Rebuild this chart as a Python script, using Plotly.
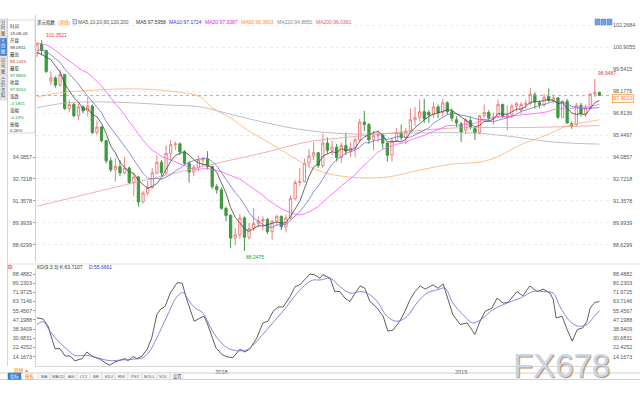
import plotly.graph_objects as go

W, H = 640, 400
FONT = "Liberation Sans, Noto Sans CJK SC"

# weekly candles of the dollar index, one per week from 2017-04-03 to 2019-08-05
opens = [100.50, 101.10, 100.70, 98.80, 99.00, 98.55, 99.20, 97.10, 97.35, 96.65,
         97.20, 96.95, 97.25, 95.60, 95.95, 95.10, 93.85, 93.30, 93.50, 93.10,
         93.40, 92.50, 92.85, 91.30, 91.85, 92.20, 93.10, 93.75, 93.10, 94.30,
         94.85, 94.90, 94.40, 93.70, 93.15, 93.45, 93.90, 93.95, 93.50, 92.25,
         92.05, 90.90, 90.45, 89.05, 89.25, 90.30, 89.10, 89.65, 89.95, 90.10,
         90.20, 89.45, 90.10, 90.40, 89.75, 90.30, 91.50, 92.50, 92.55, 93.70,
         94.15, 94.35, 93.55, 94.95, 94.50, 94.70, 94.05, 94.80, 94.45, 94.65,
         95.15, 96.25, 96.10, 95.15, 95.40, 95.45, 94.95, 94.20, 95.10, 95.60,
         95.30, 95.70, 96.40, 96.55, 96.90, 96.85, 96.70, 97.20, 96.85, 97.45,
         96.90, 96.40, 96.15, 95.75, 96.35, 95.85, 95.60, 96.65, 96.85, 96.50,
         96.60, 97.35, 96.55, 96.70, 97.25, 97.00, 97.35, 97.40, 97.95, 97.45,
         97.35, 97.85, 97.60, 97.75, 96.55, 97.55, 96.15, 96.10, 97.30, 96.80,
         97.15, 98.00, 98.0911]
highs = [101.20, 101.35, 100.75, 99.40, 99.10, 99.50, 99.25, 97.65, 97.45, 97.40,
         97.30, 97.80, 97.35, 96.35, 96.00, 95.15, 94.05, 94.00, 93.90, 94.10,
         93.50, 93.10, 92.90, 92.00, 92.60, 93.40, 94.20, 93.90, 94.80, 95.15,
         95.05, 95.00, 94.50, 93.85, 93.60, 94.20, 94.10, 94.45, 93.55, 92.40,
         92.20, 91.00, 90.55, 89.70, 90.55, 90.40, 90.00, 90.90, 90.40, 90.40,
         90.30, 90.20, 90.50, 90.45, 90.50, 91.70, 92.65, 93.40, 94.00, 94.60,
         95.00, 94.40, 95.55, 95.30, 95.10, 94.90, 95.00, 95.60, 95.00, 95.30,
         96.45, 96.95, 96.20, 95.70, 95.75, 95.55, 95.00, 95.30, 95.90, 96.10,
         95.90, 97.10, 97.20, 97.65, 97.70, 97.00, 97.50, 97.35, 97.70, 97.55,
         97.10, 96.60, 96.25, 96.50, 96.60, 95.95, 96.70, 97.35, 97.00, 96.85,
         97.65, 97.40, 97.30, 97.40, 97.50, 97.50, 97.65, 98.37, 98.10, 97.60,
         98.00, 98.35, 97.95, 97.80, 97.60, 97.70, 96.30, 97.45, 97.45, 97.35,
         98.05, 98.9487, 98.1453]
lows = [100.30, 100.40, 99.30, 98.55, 98.40, 98.45, 97.00, 96.85, 96.55, 96.40,
        96.80, 96.60, 95.50, 95.45, 95.00, 93.70, 93.15, 92.55, 92.90, 93.00,
        92.40, 91.65, 91.00, 91.20, 91.70, 92.10, 93.00, 92.90, 93.00, 93.90,
        94.50, 94.20, 93.60, 92.50, 92.90, 93.20, 93.50, 93.30, 92.10, 91.80,
        90.80, 90.10, 88.42, 88.60, 89.00, 88.2475, 88.95, 89.50, 89.70, 89.50,
        89.30, 88.95, 89.80, 89.55, 89.40, 90.20, 91.40, 92.30, 92.50, 93.40,
        93.90, 93.40, 93.40, 94.30, 94.20, 93.80, 93.70, 94.20, 94.10, 94.10,
        95.00, 95.70, 94.90, 94.50, 95.00, 94.60, 93.80, 93.80, 95.00, 95.10,
        94.90, 95.60, 96.00, 96.30, 96.20, 96.20, 96.50, 96.50, 96.60, 96.70,
        96.30, 95.95, 95.03, 95.50, 95.80, 95.15, 95.50, 96.50, 96.30, 96.10,
        96.50, 96.50, 95.75, 96.50, 96.90, 96.75, 97.10, 97.30, 97.10, 97.10,
        97.20, 97.50, 97.40, 96.45, 96.50, 96.15, 95.84, 96.00, 96.60, 96.55,
        97.05, 97.80, 97.8855]
closes = [101.10, 100.70, 99.40, 99.00, 98.55, 99.20, 97.10, 97.35, 96.65, 97.20,
          96.95, 97.25, 95.60, 95.95, 95.10, 93.85, 93.30, 93.50, 93.10, 93.40,
          92.50, 92.85, 91.30, 91.85, 92.20, 93.10, 93.75, 93.10, 94.30, 94.85,
          94.90, 94.40, 93.70, 93.15, 93.45, 93.90, 93.95, 93.50, 92.25, 92.05,
          90.90, 90.45, 89.05, 89.25, 90.30, 89.10, 89.65, 89.95, 90.10, 90.20,
          89.45, 90.10, 90.40, 89.75, 90.30, 91.50, 92.50, 92.55, 93.70, 94.15,
          94.35, 93.55, 94.95, 94.50, 94.70, 94.05, 94.80, 94.45, 94.65, 95.15,
          96.25, 96.10, 95.15, 95.40, 95.45, 94.95, 94.20, 95.10, 95.60, 95.30,
          95.70, 96.40, 96.55, 96.90, 96.45, 96.70, 97.20, 96.85, 97.45, 96.90,
          96.50, 96.20, 95.65, 96.40, 95.95, 95.60, 96.65, 96.85, 96.50, 96.55,
          97.35, 96.60, 96.70, 97.25, 97.40, 97.35, 97.40, 98.00, 97.50, 97.35,
          97.80, 97.60, 97.75, 96.55, 97.55, 96.20, 96.05, 97.30, 96.80, 97.15,
          98.00, 98.10, 97.9010]
# closes of the weeks just before the chart (only feed the first MA5/10/20 points)
earlier_closes = [101.5, 100.8, 101.7, 102.95, 103.0, 102.2, 101.8, 101.2, 100.8, 100.5,
                  99.8, 100.8, 100.9, 101.1, 101.3, 101.3, 100.3, 99.7, 100.5]

# long averages (week index, value)
ma60_x = [0, 5, 13.7, 20.8, 28.2, 35.4, 38.0, 42.3, 45.6, 51.2, 57.7, 62.0, 67.9,
          75.9, 83.1, 90.2, 96.1, 99.8, 104.8, 110.6, 115.0, 119.3, 122]
ma60_y = [97.82, 98.07, 98.26, 98.32, 98.20, 97.82, 97.15, 96.45, 95.77, 94.83, 93.71,
          93.15, 92.84, 92.84, 93.28, 93.65, 93.77, 94.09, 94.83, 95.46, 96.02, 96.27, 96.39]
ma120_x = [0, 6.5, 13.7, 20.8, 28.2, 35.4, 42.5, 49.9, 57.7, 67.9, 83.1, 93.9, 102, 111.9, 122]
ma120_y = [97.14, 97.45, 97.51, 97.45, 97.32, 97.20, 96.70, 96.20, 95.77, 95.52, 95.58,
           95.58, 95.39, 95.02, 94.885]
ma200_x = [0, 20.8, 35.4, 45.1, 49.9, 58.6, 67.9, 79.2, 90.7, 106.9, 122]
ma200_y = [91.03, 92.47, 93.46, 94.09, 94.40, 95.02, 95.33, 95.64, 95.89, 95.92, 96.036]

# KD(9,3,3)
k_x = [0, 1.3, 2.4, 3.9, 5.0, 6.1, 7.2, 8.2, 9.8, 10.8, 12.1, 13.7, 15.2, 15.8, 16.9, 18.0,
       19.1, 19.7, 20.8, 21.7, 22.8, 23.9, 24.9, 26.0, 26.7, 27.8, 28.9, 30.4, 31.5, 32.5,
       33.2, 34.1, 35.4, 36.2, 36.9, 37.7, 38.8, 40.1, 41.2, 42.5, 44.0, 45.1, 46.2, 47.7,
       49.0, 50.1, 51.2, 52.3, 53.4, 54.9, 56.0, 57.0, 58.1, 59.2, 60.3, 61.4, 62.0, 63.6,
       64.6, 65.7, 66.8, 67.9, 69.0, 70.1, 71.1, 72.2, 73.8, 75.1, 76.1, 77.2, 78.7, 79.8,
       80.9, 82.0, 83.1, 84.2, 85.9, 87.0, 88.1, 89.2, 90.2, 91.8, 93.3, 95.0, 96.1, 97.2,
       98.7, 99.8, 101.1, 102.2, 104.1, 105.4, 106.9, 108.5, 109.8, 111.3, 112.0, 112.6,
       113.9, 115.0, 116.1, 117.2, 118.4, 119.3, 120.0, 121.0, 122]
k_y = [49.0, 48.1, 41.6, 21.4, 21.4, 14.8, 14.8, 10.4, 12.5, 18.4, 14.3, 11.9, 7.7, 6.5, 9.5,
       10.7, 12.5, 10.4, 14.3, 12.5, 14.8, 20.8, 31.2, 52.0, 56.4, 59.4, 71.3, 80.7, 80.2,
       65.3, 56.4, 46.0, 49.0, 50.5, 44.5, 35.7, 22.3, 16.3, 14.0, 13.4, 20.8, 18.4, 21.4,
       31.2, 44.5, 46.0, 54.9, 58.8, 58.8, 68.3, 77.2, 78.7, 83.8, 88.5, 87.6, 84.6, 88.0,
       84.6, 72.7, 72.7, 66.8, 63.8, 71.3, 77.8, 75.7, 63.8, 57.9, 50.5, 37.1, 38.0, 46.0,
       54.9, 65.3, 72.7, 77.8, 74.9, 78.7, 75.7, 79.6, 65.3, 52.0, 43.1, 44.5, 34.2, 46.0,
       54.9, 57.9, 66.8, 62.4, 63.0, 72.7, 68.9, 77.8, 72.7, 74.9, 71.3, 65.3, 49.0, 50.5,
       38.6, 28.2, 38.6, 40.1, 46.0, 57.9, 62.9, 63.7107]
d_x = [0, 1.3, 2.8, 4.6, 6.5, 8.2, 10.8, 12.1, 14.1, 15.8, 18.7, 20.8, 23.0, 24.5, 26.0,
       28.2, 30.4, 31.7, 32.8, 34.3, 36.0, 37.5, 39.3, 41.2, 42.5, 44.0, 45.8, 47.7, 49.9,
       52.1, 54.2, 56.4, 58.6, 59.9, 61.4, 63.6, 65.7, 67.9, 70.1, 71.6, 73.8, 75.9, 78.1,
       80.3, 82.4, 84.6, 86.8, 88.5, 90.2, 92.4, 94.6, 96.7, 98.9, 102.0, 104.8, 107.6,
       109.8, 112.0, 113.4, 115.6, 117.4, 119.3, 120.6, 122]
d_y = [43.1, 45.6, 37.1, 28.2, 20.8, 15.4, 15.4, 14.3, 12.0, 10.6, 11.3, 11.9, 13.4, 19.5,
       31.2, 50.5, 68.3, 71.8, 65.3, 57.9, 53.4, 41.6, 29.7, 22.3, 20.2, 19.5, 20.8, 28.2,
       38.6, 49.0, 59.4, 71.3, 80.2, 83.1, 83.1, 84.6, 77.2, 71.3, 72.7, 71.3, 63.8, 50.5,
       46.0, 50.5, 62.4, 71.3, 74.2, 75.7, 62.4, 52.0, 44.5, 48.9, 56.4, 62.4, 66.8, 72.7,
       72.7, 71.3, 59.4, 46.0, 41.6, 43.1, 49.0, 55.6661]

price_ticks = [102.2684, 100.9055, 99.5415, 98.1776, 96.8136, 95.4497, 94.0857,
               92.7218, 91.3578, 89.9939, 88.6299]
left_price_ticks = price_ticks[6:]  # the upper ones sit behind the info panel
kd_ticks = [88.4882, 80.2303, 71.9725, 63.7146, 55.4567, 47.1988, 38.9409,
            30.6831, 22.4252, 14.1673]
year_pos = [40, 92]
year_labels = ["2018", "2019"]

info_rows = [("时间", "#333"), ("19-08-05", "#333"), ("开盘", "#333"), ("98.0911", "#333"),
             ("最高", "#333"), ("98.1453", "#e03030"), ("最低", "#333"), ("97.8855", "#1a9a1a"),
             ("收盘", "#333"), ("97.9010", "#1a9a1a"), ("涨跌", "#333"), ("-0.1901", "#1a9a1a"),
             ("涨幅", "#333"), ("-0.19%", "#1a9a1a"), ("振幅", "#333"), ("0.26%", "#333")]
ma_header = [("MA5,10,20,60,120,200", "#555", 77), ("MA5:97.5958", "#333", 135),
             ("MA10:97.1724", "#3a3ac8", 168), ("MA20:97.3387", "#e020e0", 204),
             ("MA60:96.3903", "#ff8a1e", 240), ("MA120:94.8850", "#888", 276),
             ("MA200:96.0361", "#e06060", 315)]
tabs = ["MA", "MACD", "ASI", "CCI", "BR", "KDJ", "RSI", "PSY", "BOLL", "VOL", "设置"]
tab_edges = [38, 50, 65, 77, 90, 102, 115, 128, 142, 157, 170, 183]

idx = list(range(len(closes)))
all_c = earlier_closes + closes
n0 = len(earlier_closes)


def sma(n):
    return [sum(all_c[i + n0 - n + 1:i + n0 + 1]) / n for i in idx]


def px(x):
    return x / W


def py(y):
    return 1 - y / H


X0, X1 = 36, 610
STEP = 4.61
x_range = [(X0 - 37) / STEP, (X1 - 37) / STEP]
price_range = [94.0857 - (262 - 157) / 16.1, 94.0857 + (157 - 15) / 16.1]
kd_range = [88.4882 - (366 - 274) / 1.1128, 88.4882 + (274 - 268) / 1.1128]

fig = go.Figure()
fig.add_trace(go.Candlestick(
    x=idx, open=opens, high=highs, low=lows, close=closes,
    increasing=dict(line=dict(color="#f08080", width=1), fillcolor="white"),
    decreasing=dict(line=dict(color="#3f9a3f", width=1), fillcolor="#3f9a3f"),
    whiskerwidth=0, hoverinfo="skip", xaxis="x", yaxis="y"))

for xs, ys, color, shape in [
    (ma200_x, ma200_y, "#f09a9a", "spline"),
    (ma120_x, ma120_y, "#b0b0b0", "spline"),
    (ma60_x, ma60_y, "#ffb070", "spline"),
    (idx, sma(20), "#ff55ff", "linear"),
    (idx, sma(10), "#7070d0", "linear"),
    (idx, sma(5), "#444444", "linear"),
]:
    fig.add_trace(go.Scatter(x=xs, y=ys, mode="lines", line=dict(color=color, width=0.8, shape=shape),
                             hoverinfo="skip", xaxis="x", yaxis="y"))

fig.add_trace(go.Scatter(x=k_x, y=k_y, mode="lines", line=dict(color="#333", width=0.8),
                         hoverinfo="skip", xaxis="x2", yaxis="y2"))
fig.add_trace(go.Scatter(x=d_x, y=d_y, mode="lines", line=dict(color="#6a6ad8", width=0.8, shape="spline"),
                         hoverinfo="skip", xaxis="x2", yaxis="y2"))

# last price line
fig.add_trace(go.Scatter(x=x_range, y=[closes[-1]] * 2, mode="lines",
                         line=dict(color="#66aaff", width=0.8, dash="dot"),
                         hoverinfo="skip", xaxis="x", yaxis="y"))

tick_font = dict(family=FONT, size=5.3, color="#555")
xdom = [px(X0), px(X1)]
pdom = [py(262), py(15)]
kdom = [py(366), py(268)]

fig.update_layout(
    width=W, height=H, margin=dict(l=0, r=0, t=0, b=0),
    paper_bgcolor="white", plot_bgcolor="white", showlegend=False, hovermode=False,
    xaxis=dict(domain=xdom, range=x_range, anchor="y", showticklabels=False, showgrid=False,
               zeroline=False, rangeslider=dict(visible=False), fixedrange=True),
    yaxis=dict(domain=pdom, range=price_range, side="right", anchor="x", tickvals=price_ticks,
               ticktext=[f"{v:.4f}" for v in price_ticks], tickfont=tick_font, showgrid=True,
               gridcolor="#ececec", griddash="dot", zeroline=False, ticks="", ticklen=0,
               ticklabelstandoff=2),
    yaxis3=dict(overlaying="y", range=price_range, side="left", anchor="x", tickvals=left_price_ticks,
                ticktext=[f"{v:.4f}" for v in left_price_ticks], tickfont=tick_font, showgrid=False,
                zeroline=False, ticks="outside", ticklen=2, tickcolor="#999", showline=True,
                linecolor="#d0d0d0", linewidth=1),
    xaxis2=dict(domain=xdom, range=x_range, anchor="y2", tickvals=year_pos, ticktext=year_labels,
                tickfont=dict(family=FONT, size=5.5, color="#444"), showgrid=False, zeroline=False,
                ticks="", ticklen=0, showline=True, linecolor="#d8d8d8", linewidth=1),
    yaxis2=dict(domain=kdom, range=kd_range, side="right", anchor="x2", tickvals=kd_ticks,
                ticktext=[f"{v:.4f}" for v in kd_ticks], tickfont=tick_font, showgrid=False,
                zeroline=False, ticks="", ticklen=0, ticklabelstandoff=2),
    yaxis4=dict(overlaying="y2", range=kd_range, side="left", anchor="x2", tickvals=kd_ticks,
                ticktext=[f"{v:.4f}" for v in kd_ticks], tickfont=tick_font, showgrid=False,
                zeroline=False, ticks="outside", ticklen=2, tickcolor="#999", showline=True,
                linecolor="#d0d0d0", linewidth=1),
)
# make the overlay axes visible in the figure
fig.add_trace(go.Scatter(x=[None], y=[None], xaxis="x", yaxis="y3", showlegend=False))
fig.add_trace(go.Scatter(x=[None], y=[None], xaxis="x2", yaxis="y4", showlegend=False))

shapes = []


def box(x0, y0, x1, y1, fill, line="#c8c8c8", lw=0.6):
    shapes.append(dict(type="rect", xref="paper", yref="paper", x0=px(x0), x1=px(x1),
                       y0=py(y1), y1=py(y0), fillcolor=fill, line=dict(color=line, width=lw),
                       layer="above"))


def hline(y, x0, x1, color="#d8d8d8"):
    shapes.append(dict(type="line", xref="paper", yref="paper", x0=px(x0), x1=px(x1),
                       y0=py(y), y1=py(y), line=dict(color=color, width=1), layer="above"))


def text(x, y, s, color="#333", size=4.6, anchor="left", **kw):
    fig.add_annotation(x=px(x), y=py(y), xref="paper", yref="paper", text=s, showarrow=False,
                       xanchor=anchor, yanchor="middle", borderpad=0,
                       font=dict(family=FONT, size=size, color=color), **kw)


# frames
hline(264, 8, 640, "#e2e2e2")
hline(373, 0, 640, "#d0d0d0")
hline(379.5, 0, 640, "#d0d0d0")
shapes.append(dict(type="line", xref="paper", yref="paper", x0=px(7.5), x1=px(7.5),
                   y0=py(366), y1=py(18), line=dict(color="#d6d6d6", width=1), layer="above"))

# side tabs
for (y0, y1, label, sel) in [(19, 37, "分<br>时<br>图", False), (38, 56, "K<br>线<br>图", True),
                             (57, 75, "闪<br>电<br>图", False), (76, 100, "合<br>约<br>资<br>料", False)]:
    box(0, y0, 7, y1, "#3d7fd6" if sel else "#ececec", "#c0c0c0", 0.5)
    text(3.5, (y0 + y1) / 2, label, "white" if sel else "#444", 4.2, "center")

# info panel
box(7.5, 20, 35, 133, "white", "#c4c4c4", 0.6)
for i, (s, c) in enumerate(info_rows):
    text(9, 26.7 + i * 6.95, s, c, 4.4)

# header
text(36, 22, "美元指数<span style='color:#ff7a00'>（周线）</span>", "#222", 4.5)
box(73, 19.5, 76.5, 24, "#dce9fb", "#3d7fd6", 0.6)
for s, c, x in ma_header:
    text(x, 22, s, c, 5)

# top-right buttons
for x in [595, 601, 607]:
    box(x, 19, x + 5, 25, "#6fa3e0", "#4a86d0", 0.5)

# highs / lows
fig.add_annotation(x=1, y=101.3521, xref="x", yref="y", text="101.3521", showarrow=False,
                   xanchor="left", yanchor="bottom", xshift=2, yshift=0,
                   font=dict(family=FONT, size=5, color="#e04040"))
fig.add_annotation(x=45, y=88.2475, xref="x", yref="y", text="88.2475", showarrow=False,
                   xanchor="left", yanchor="top", xshift=0, yshift=-1,
                   font=dict(family=FONT, size=5, color="#2a9a2a"))
fig.add_annotation(x=121, y=98.9487, xref="x", yref="y", text="98.9487", showarrow=False,
                   xanchor="left", yanchor="bottom", xshift=1, yshift=1,
                   font=dict(family=FONT, size=5, color="#e04040"))

# last price tag
fig.add_annotation(x=px(612), y=py(98), xref="paper", yref="paper", text="97.9010", showarrow=False,
                   xanchor="left", yanchor="middle", bordercolor="#ffa040", borderwidth=0.8,
                   borderpad=0.5, bgcolor="#fff6ec", font=dict(family=FONT, size=5.3, color="#ff8a1e"))

# KD header
shapes.append(dict(type="circle", xref="paper", yref="paper", x0=px(8), x1=px(12),
                   y0=py(269), y1=py(265), fillcolor="#f6c0c0", line=dict(color="#e05050", width=0.6),
                   layer="above"))
text(36, 267, "KD(9,3,3) K:63.7107", "#333", 5)
text(88, 267, "D:55.6661", "#3a3ac8", 5)

# bottom bar
text(13, 370, "周线 ▲", "#ff7a00", 4.6)
box(8, 373, 21, 379.5, "#2f7ed8", "#2f7ed8", 0.5)
text(14.5, 376.3, "指标", "white", 4.4, "center")
text(29, 376.3, "模板", "#ff7a00", 4.4, "center")
for i, t in enumerate(tabs):
    box(tab_edges[i], 373, tab_edges[i + 1], 379.5, "#f7f7f7", "#cfcfcf", 0.5)
    text((tab_edges[i] + tab_edges[i + 1]) / 2, 376.3, t, "#555", 4.2, "center")

# watermark
fig.add_annotation(x=px(561), y=py(365), xref="paper", yref="paper", text="FX678", showarrow=False,
                   xanchor="center", yanchor="middle",
                   font=dict(family="Liberation Sans", size=33, color="#c9d6ec",
                             shadow="1px 1px 1px #b58c6a"))

fig.update_layout(shapes=shapes)
fig.write_html("out.html", config={"displayModeBar": False},
               post_script="document.body.style.margin='0';document.body.style.overflow='hidden';")
